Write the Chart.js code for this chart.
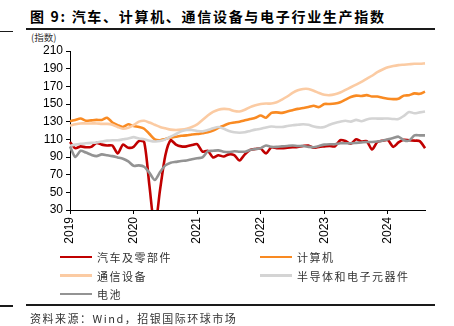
<!DOCTYPE html>
<html lang="zh">
<head>
<meta charset="utf-8">
<script src="https://cdn.jsdelivr.net/npm/chart.js@4/dist/chart.umd.min.js"></script>
<style>
  html, body { margin: 0; padding: 0; background: #fff; }
  #wrap { position: relative; width: 454px; height: 326px; overflow: hidden; font-family: "Noto Sans CJK SC", sans-serif; }
  #chart { position: absolute; left: 0; top: 0; }
  .title { position: absolute; left: 30px; top: 6px; line-height: 20px; font-size: 14px; font-weight: bold; letter-spacing: 1.7px; color: #000; white-space: nowrap; }
  .rule { position: absolute; background: #1a1a1a; }
  .unit { position: absolute; left: 31px; top: 31px; line-height: 12px; font-size: 9.5px; color: #333; }
  #legend { position: absolute; left: 60px; top: 248px; display: grid; grid-template-columns: 200px 180px; grid-auto-rows: 18.4px; }
  .item { display: flex; align-items: center; font-size: 11px; letter-spacing: 1.5px; color: #333; white-space: nowrap; }
  .swatch { width: 32px; height: 2.5px; margin-right: 5px; }
  .source { position: absolute; left: 30px; top: 310px; line-height: 16px; font-size: 11px; letter-spacing: 1.5px; color: #333; white-space: nowrap; }
</style>
</head>
<body>
<div id="wrap">
  <div class="title">图 9: 汽车、计算机、通信设备与电子行业生产指数</div>
  <div class="rule" style="left:0;top:30.5px;width:12.7px;height:1.7px;"></div>
  <div class="rule" style="left:26px;top:28px;width:409px;height:2px;"></div>
  <div class="unit">(指数)</div>
  <canvas id="chart" width="454" height="326"></canvas>
  <div id="legend"></div>
  <div class="rule" style="left:0;top:305px;width:12.7px;height:1.7px;"></div>
  <div class="rule" style="left:26px;top:304px;width:409px;height:2px;"></div>
  <div class="source">资料来源：Wind，招银国际环球市场</div>
</div>
<script>
// ---- data (monthly, 2019-01 .. 2024-08) ----
const months = [];
for (let y = 2019; y <= 2024; y++) {
  for (let m = 1; m <= 12; m++) {
    if (y === 2024 && m > 8) break;
    months.push(y + "-" + String(m).padStart(2, "0"));
  }
}

const autoParts = [107,100,102,101,101.5,106,104,103,103,94,
  104,100.5,101.5,108,107,57,10,53,92,109,
  104,102,102,103.5,104.5,96,97,89.5,92,90.5,
  93,92,86,93,98,99,99.5,94,101,100,
  100,100.5,101,101.5,102.5,103,100.5,101.5,102,102.5,
  102,109,108,105,110,107.5,108,98.5,107,108.5,
  109,101.5,106.5,109.5,109,108.5,108,100];

const computer = [130.5,132,133.5,131,131.5,132,132,134.5,129,126,
  124,127,125,124,122,116,110,109,110.5,112,
  113,114,114.5,115.5,116,117,118,120,123,125.5,
  128,129,130,131.5,133,134.5,137,134.5,140,140.5,
  140,141.5,143,144.5,145.5,146.5,148,146.5,150,150,
  150.5,152,155,158,159.5,159,160,158.5,158.5,157,
  156,155.5,156,159.5,160,162,161.5,164];

const telecom = [125.5,127,128,128,128,128,127.5,127.5,126.5,124,
  122,123,126,130,131,129,126.5,124,122.5,121,
  120.5,121,122,124,127,132,137,141,143.5,144.5,
  144,142,141.5,143.5,146.5,148.5,150,150.5,150.5,152,
  155,158.5,162.5,165.5,167,167,165,162.5,160.5,160,
  161,163,166,169,172,175,178.5,182,186,189,
  191.5,193,194,194.5,195,195.5,195.5,196];

const semis = [102.5,104,105,105.5,106,106.5,107.5,108.5,109,109,
  110,111,112.5,111,110,108.5,107.5,108,110,113,
  116,119,120.5,120.5,119.5,119,120.5,122.5,124,122,
  119.5,118,117.5,118,119.5,121,122,123.5,124.5,124,
  124,125,126,126.5,127,126.5,124.5,123.5,124,126.5,
  128.5,130,131,130,132,130.5,132.5,133.5,133.5,133.5,
  133.5,133,133,136.5,141,139.5,140.5,141.5];

const battery = [102,90,97,95,92.5,91,93,92,91,89.5,
  88,85,80,80.5,79,72,64,73,80.5,83.5,
  84.5,85.5,86,87.5,88.5,89.5,96.5,97,97.5,96,
  95.5,96.5,96,96,98,99,100,103,101.5,101.5,
  102,102.5,103,102.5,102.5,101.5,101,102.5,104,104.5,
  104.5,105.5,105.5,105.5,106,106.5,107,107,107.5,108.5,
  110,111.5,113,109,108.5,114.5,114.5,114.5];

const seriesNames = ["汽车及零部件", "计算机", "通信设备", "半导体和电子元器件", "电池"];
const seriesData = [autoParts, computer, telecom, semis, battery];
const seriesColors = ["#C00000", "#F98A22", "#FBCBA3", "#D4D4D4", "#939393"];

const yTicks = [30, 50, 70, 90, 110, 130, 150, 170, 190, 210];

// ---- chart ----
const datasets = seriesNames.map((name, i) => ({
  label: name,
  data: seriesData[i],
  borderColor: seriesColors[i],
  backgroundColor: seriesColors[i],
  borderWidth: 2.6,
  pointRadius: 0,
  tension: 0.25,
  borderJoinStyle: "round",
  order: seriesNames.length - 1 - i   // later series drawn on top
}));

const numFont = { family: '"Liberation Sans", Arial, sans-serif', size: 12 };

const chart = new Chart(document.getElementById("chart"), {
  type: "line",
  data: { labels: months, datasets: datasets },
  options: {
    responsive: false,
    animation: false,
    layout: { padding: { left: 20, top: 51, right: 29, bottom: 76 } },
    plugins: { legend: { display: false }, tooltip: { enabled: false } },
    scales: {
      x: {
        type: "category",
        border: { display: true, color: "#000", width: 1 },
        grid: {
          drawOnChartArea: false,
          drawTicks: true,
          tickLength: 4,
          color: c => (c.index % 12 === 0 ? "#000" : "rgba(0,0,0,0)")
        },
        ticks: {
          autoSkip: false,
          minRotation: 90,
          maxRotation: 90,
          padding: 3,
          color: "#000",
          font: numFont,
          callback: (v, i) => (i % 12 === 0 ? months[i].slice(0, 4) : "")
        },
        afterFit: s => { s.height = 40; }
      },
      y: {
        min: yTicks[0],
        max: yTicks[yTicks.length - 1],
        border: { display: true, color: "#000", width: 1 },
        grid: { drawOnChartArea: false, drawTicks: true, tickLength: 4, color: "#000" },
        ticks: { stepSize: 20, padding: 3, color: "#000", font: numFont },
        afterBuildTicks: s => { s.ticks = yTicks.map(v => ({ value: v })); },
        afterFit: s => { s.width = 50; }
      }
    }
  }
});

// ---- legend (two columns) ----
const legend = document.getElementById("legend");
chart.data.datasets.forEach(ds => {
  const item = document.createElement("div");
  item.className = "item";
  item.innerHTML = `<span class="swatch" style="background:${ds.borderColor}"></span>${ds.label}`;
  legend.appendChild(item);
});
</script>
</body>
</html>
